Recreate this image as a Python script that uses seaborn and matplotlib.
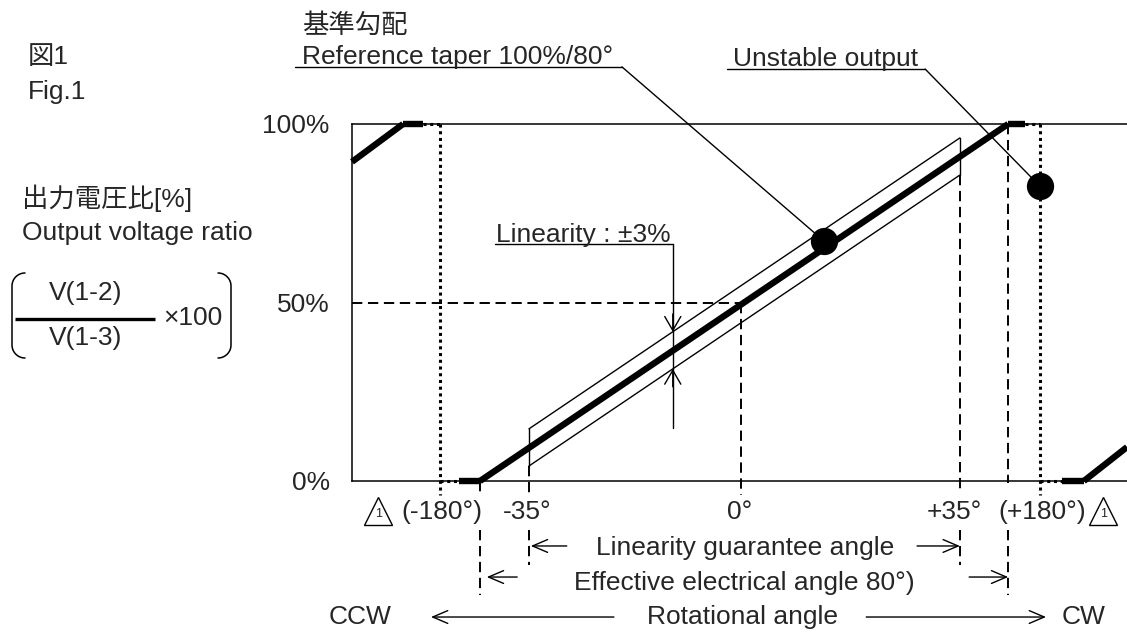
import numpy as np
import matplotlib
matplotlib.use("Agg")
import matplotlib.pyplot as plt
import seaborn as sns

# x = rotational angle on the drawing's own (schematic) degree scale, y = output ratio [%]
x_min, x_max = -62.74, 62.26

# thick output characteristic, one segment per entry
char_x = [[-62.74, -54.5], [-54.5, -51.3], [-45.5, -42.1], [-42.1, 43.1],
          [43.1, 45.8], [51.8, 55.3], [55.3, 62.26]]
char_y = [[89.4, 100], [100, 100], [0, 0], [0, 100],
          [100, 100], [0, 0], [0, 9.5]]

# unstable zone (dotted)
dot_x = [[-51.3, -48.5], [-48.5, -45.5], [45.8, 48.2], [48.2, 51.8]]
dot_y = [[100, 100], [0, 0], [100, 100], [0, 0]]
jump_x = [-48.5, 48.2]
jump_top, jump_bot = 100, -3.9

# linearity band corners
band_x = [-34.2, 35.3]
band_top = [14.6, 96.1]
band_bot = [4.2, 85.7]

# dashed guide lines: x, from, to
guide_x = [-34.2, -34.2, 0, 35.3, 35.3, -42.1, -42.1, 43.1, 43.1]
guide_y0 = [4.2, -13.7, 50, 85.7, -13.7, 0, -13.7, 100, -13.7]
guide_y1 = [-4.5, -23.5, -3.9, -2.8, -23.5, -3.9, -31.9, -0.6, -31.9]

# angle labels under the axis
angle_labels = ["(-180°)", "-35°", "0°", "+35°", "(+180°)"]
angle_pos = [-48.2, -34.5, -0.2, 34.4, 48.5]
label_y = -8.7
caution_pos = [-58.5, 58.4]

# marked points
point_x = [13.4, 48.2]
point_y = [67.2, 82.6]

# underlined callouts with leader lines
callout_text = ["Reference taper 100%/80°", "Unstable output", "Linearity : ±3%"]
callout_x = [-70.8, -1.3, -39.5]
callout_y = [116.8, 116.2, 67.0]
under_x0 = [-71.9, -2.3, -39.7]
under_x1 = [-19.2, 29.7, -11.0]
under_y = [116.0, 115.4, 66.3]
leader_x = [13.4, 48.2, -11.0]
leader_y = [67.2, 82.6, 14.8]
lin_tip_top, lin_tip_bot = 41.8, 31.4

# dimension rows below the axis
span_names = ["Linearity guarantee angle", "Effective electrical angle 80°)", "Rotational angle"]
span_text_x = [0.6, 0.5, 0.3]
span_text_y = [-18.7, -28.6, -38.1]
span_arrow_y = [-18.2, -26.9, -38.1]
span_left_tail = [-28.1, -36.1, -20.5]
span_left_tip = [-33.9, -41.0, -50.0]
span_right_tail = [28.4, 36.8, 20.2]
span_right_tip = [35.3, 43.1, 49.2]

pct_ticks = [0, 50, 100]
pct_labels = ["0%", "50%", "100%"]

sns.set_style("white")
plt.rcParams["font.family"] = ["Liberation Sans", "Noto Sans CJK JP"]
FS = 19

W, H = 1127, 632
fig = plt.figure(figsize=(W / 100, H / 100), dpi=100)

# left hand caption panel in pixel units
lax = fig.add_axes([0, 0, 1, 1], zorder=-1)
lax.set_xlim(0, W)
lax.set_ylim(H, 0)
lax.axis("off")
lax.text(28, 57, "図1", fontsize=FS, va="center")
lax.text(28, 92, "Fig.1", fontsize=FS, va="center")
lax.text(22, 198, "出力電圧比[%]", fontsize=FS, va="center")
lax.text(22, 233, "Output voltage ratio", fontsize=FS, va="center")
lax.text(86, 293, "V(1-2)", fontsize=FS, va="center", ha="center")
lax.text(86, 338, "V(1-3)", fontsize=FS, va="center", ha="center")
lax.plot([15, 155], [319, 319], color="black", lw=2.4, solid_capstyle="butt")
lax.text(163, 318, "×100", fontsize=FS, va="center")


def bracket(ax, x_edge, x_tip, y_top, y_bot):
    r = abs(x_tip - x_edge)
    s = np.sign(x_tip - x_edge)
    t = np.linspace(np.pi / 2, 0, 20)
    cx = x_edge + s * r
    xs = np.concatenate([cx - s * r * np.cos(t), (cx - s * r * np.cos(t))[::-1]])
    ys = np.concatenate([y_top + r - r * np.sin(t), (y_bot - r + r * np.sin(t))[::-1]])
    ax.plot(xs, ys, color="black", lw=1.1)


bracket(lax, 12, 25, 273, 358)
bracket(lax, 231, 218, 273, 358)

# main chart
ax = fig.add_axes([352 / W, (H - 481) / H, (W - 352) / W, 357 / H])
ax.set_xlim(x_min, x_max)
ax.set_ylim(0, 100)
for side in ["left", "top", "bottom"]:
    ax.spines[side].set_linewidth(1.1)
    ax.spines[side].set_color("black")
ax.spines["right"].set_visible(False)
ax.set_xticks([])
ax.set_yticks(pct_ticks, pct_labels, fontsize=FS)
ax.tick_params(axis="y", length=0, pad=16)

dash = (0, (5.3, 2.9))
dotted = (0, (1, 1.2))

ax.plot([x_min, 0], [50, 50], color="black", lw=1.4, ls=dash)
for gx, g0, g1 in zip(guide_x, guide_y0, guide_y1):
    ax.plot([gx, gx], [g0, g1], color="black", lw=1.4, ls=dash, clip_on=False)

for dx, dy in zip(dot_x, dot_y):
    ax.plot(dx, dy, color="black", lw=2.2, ls=dotted, clip_on=False)
for jx in jump_x:
    ax.plot([jx, jx], [jump_top, jump_bot], color="black", lw=2.2, ls=dotted, clip_on=False)

# linearity band
ax.plot(band_x, band_top, color="black", lw=1.0)
ax.plot(band_x, band_bot, color="black", lw=1.0)
for bx, bt, bb in zip(band_x, band_top, band_bot):
    ax.plot([bx, bx], [bt, bb], color="black", lw=1.0)

for cx, cy in zip(char_x, char_y):
    sns.lineplot(x=cx, y=cy, ax=ax, color="black", lw=4.6, sort=False,
                 estimator=None, solid_capstyle="butt", clip_on=False, zorder=4)

# callouts
for i, txt in enumerate(callout_text):
    ax.text(callout_x[i], callout_y[i], txt, fontsize=FS, va="baseline", ha="left")
    ax.plot([under_x0[i], under_x1[i]], [under_y[i], under_y[i]], color="black",
            lw=1.0, clip_on=False)
    ax.plot([under_x1[i], leader_x[i]], [under_y[i], leader_y[i]], color="black",
            lw=1.0, clip_on=False, zorder=3)
ax.text(callout_x[0], 127.7, "基準勾配", fontsize=FS, va="center", ha="left")

head_lin = dict(arrowstyle="->,head_length=0.5,head_width=0.29", lw=1.0,
                color="black", shrinkA=0, shrinkB=0, mutation_scale=20)
ax.annotate("", xy=(leader_x[2], lin_tip_top), xytext=(leader_x[2], lin_tip_top + 5),
            arrowprops=head_lin)
ax.annotate("", xy=(leader_x[2], lin_tip_bot), xytext=(leader_x[2], lin_tip_bot - 5),
            arrowprops=head_lin)

sns.scatterplot(x=point_x, y=point_y, ax=ax, s=330, color="black", edgecolor="black",
                zorder=6, clip_on=False)

# angle labels and caution marks
for pos, lab in zip(angle_pos, angle_labels):
    ax.text(pos, label_y, lab, fontsize=FS, ha="center", va="center")
for cpos in caution_pos:
    ax.plot(cpos, label_y + 0.4, marker="^", ms=20, mfc="white", mec="black", mew=1.0,
            clip_on=False)
    ax.text(cpos, label_y - 0.6, "1", fontsize=9, ha="center", va="center")

# dimension rows
head_span = dict(arrowstyle="->,head_length=0.54,head_width=0.23", lw=1.0,
                 color="black", shrinkA=0, shrinkB=0, mutation_scale=20)
for i, name in enumerate(span_names):
    ax.text(span_text_x[i], span_text_y[i], name, fontsize=FS, ha="center", va="center")
    ax.annotate("", xy=(span_left_tip[i], span_arrow_y[i]),
                xytext=(span_left_tail[i], span_arrow_y[i]), arrowprops=head_span,
                annotation_clip=False)
    ax.annotate("", xy=(span_right_tip[i], span_arrow_y[i]),
                xytext=(span_right_tail[i], span_arrow_y[i]), arrowprops=head_span,
                annotation_clip=False)
ax.text(-61.5, span_text_y[2], "CCW", fontsize=FS, ha="center", va="center")
ax.text(55.3, span_text_y[2], "CW", fontsize=FS, ha="center", va="center")

ax.set_xlabel("")
ax.set_ylabel("")
fig.savefig("out.png", dpi=100)
